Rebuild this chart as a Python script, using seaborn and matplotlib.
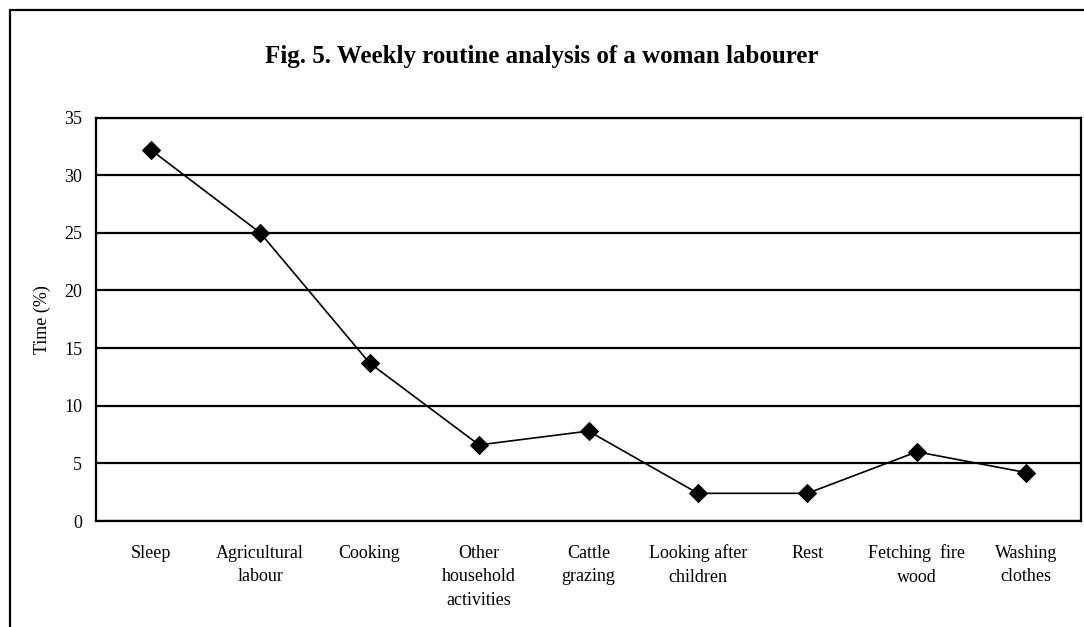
import numpy as np
import pandas as pd
import matplotlib
matplotlib.use("Agg")
import matplotlib.pyplot as plt
import seaborn as sns
from matplotlib.lines import Line2D

# DATA
activities = [
    "Sleep",
    "Agricultural\nlabour",
    "Cooking",
    "Other\nhousehold\nactivities",
    "Cattle\ngrazing",
    "Looking after\nchildren",
    "Rest",
    "Fetching  fire\nwood",
    "Washing\nclothes",
]
time_pct = [32.2, 25.0, 13.7, 6.6, 7.8, 2.4, 2.4, 6.0, 4.2]
y_ticks = [0, 5, 10, 15, 20, 25, 30, 35]

TITLE = "Fig. 5. Weekly routine analysis of a woman labourer"

# STYLE
sns.set_style("white")
plt.rcParams["font.family"] = ["Liberation Serif", "DejaVu Serif"]
plt.rcParams["text.color"] = "black"
plt.rcParams["axes.labelcolor"] = "black"
plt.rcParams["xtick.color"] = "black"
plt.rcParams["ytick.color"] = "black"

df = pd.DataFrame({"activity": activities, "time": time_pct})
df["pos"] = np.arange(len(activities))

fig = plt.figure(figsize=(10.84, 6.27), dpi=100)
ax = fig.add_axes([96 / 1084, 1 - 521 / 627, (1081 - 96) / 1084, (521 - 117.5) / 627])

sns.lineplot(
    data=df,
    x="pos",
    y="time",
    ax=ax,
    color="black",
    linewidth=1.2,
    marker="D",
    markersize=9.5,
    markeredgecolor="black",
    markerfacecolor="black",
    sort=False,
)

# AXES
ax.set_xlim(-0.5, len(activities) - 0.5)
ax.set_ylim(0, 35)
ax.set_yticks(y_ticks)
ax.set_yticklabels([str(v) for v in y_ticks], fontsize=13)
ax.set_xticks(df["pos"])
ax.set_xticklabels(activities, fontsize=13, linespacing=1.5, va="top")
ax.set_xticks(np.arange(-0.5, len(activities), 1), minor=True)

ax.tick_params(axis="x", which="major", length=0, pad=17)
ax.tick_params(axis="x", which="minor", length=5, width=1.5, direction="out", color="black")
ax.tick_params(axis="y", length=5, width=1.5, direction="out", color="black", pad=5)

ax.yaxis.grid(True, color="black", linewidth=1.6)
ax.xaxis.grid(False)
ax.set_axisbelow(True)

for side in ["left", "right", "top", "bottom"]:
    ax.spines[side].set_visible(True)
    ax.spines[side].set_color("black")
    ax.spines[side].set_linewidth(1.6)

ax.set_xlabel("")
ax.set_ylabel("Time (%)", fontsize=13, labelpad=9)

fig.text(0.5, 1 - 56 / 627, TITLE, ha="center", va="center",
         fontsize=18, fontweight="bold", color="black")

# outer frame (left and top edges visible)
fig.add_artist(Line2D([10 / 1084, 10 / 1084], [0, 1 - 10 / 627],
                      transform=fig.transFigure, color="black", linewidth=1.6))
fig.add_artist(Line2D([10 / 1084, 1], [1 - 10 / 627, 1 - 10 / 627],
                      transform=fig.transFigure, color="black", linewidth=1.6))

fig.savefig("out.png", dpi=100, facecolor="white")
plt.close(fig)
